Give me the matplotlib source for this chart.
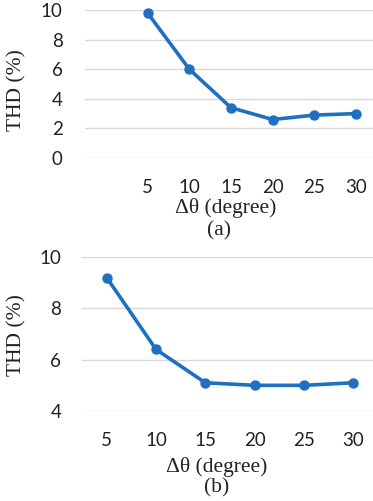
import matplotlib
matplotlib.use('Agg')
import matplotlib.pyplot as plt

# data
dtheta = [5, 10, 15, 20, 25, 30]
thd_a = [9.8, 6.0, 3.4, 2.6, 2.9, 3.0]
thd_b = [9.2, 6.4, 5.1, 5.0, 5.0, 5.1]
yticks_a = [0, 2, 4, 6, 8, 10]
yticks_b = [4, 6, 8, 10]

W, H = 373, 501
blue = '#1f70c1'
grid = '#d9d9d9'
serif = 'Liberation Serif'
sans = 'Lato'

fig = plt.figure(figsize=(W / 100, H / 100), dpi=100)

def px_axes(left, top, right, bottom):
    # axes box given in pixel coords (origin top-left)
    return fig.add_axes([left / W, 1 - bottom / H, (right - left) / W, (bottom - top) / H])

def style(ax, yticks, ypad):
    ax.set_yticks(yticks)
    ax.set_xticks(dtheta)
    ax.grid(axis='y', color=grid, linewidth=1)
    ax.set_axisbelow(True)
    for s in ax.spines.values():
        s.set_visible(False)
    ax.tick_params(length=0, labelsize=13.5, colors='#222222')
    ax.tick_params(axis='x', pad=15)
    ax.tick_params(axis='y', pad=ypad)
    for lb in ax.get_xticklabels() + ax.get_yticklabels():
        lb.set_fontfamily(sans)

# (a)
ax1 = px_axes(85, 10, 377, 158)
ax1.plot(dtheta, thd_a, color=blue, lw=2.6, marker='o', ms=6.5, clip_on=False, zorder=3)
ax1.set_xlim(-2.5, 32.5)
ax1.set_ylim(0, 10)
style(ax1, yticks_a, 16)

# (b)
ax2 = px_axes(82, 257, 378, 411)
ax2.plot(dtheta, thd_b, color=blue, lw=2.6, marker='o', ms=6.5, clip_on=False, zorder=3)
ax2.set_xlim(2.5, 32.5)
ax2.set_ylim(4, 10)
style(ax2, yticks_b, 15)

def ftext(x, y, s, **kw):
    fig.text(x / W, 1 - y / H, s, ha='center', va='center', family=serif,
             fontsize=15.5, color='#222222', **kw)

ftext(17, 90, 'THD (%)', rotation=90)
ftext(226, 208, 'Δθ (degree)')
ftext(219, 231, '(a)')
ftext(17, 335, 'THD (%)', rotation=90)
ftext(217, 467, 'Δθ (degree)')
ftext(217, 488, '(b)')

fig.savefig('out.png', dpi=100)
